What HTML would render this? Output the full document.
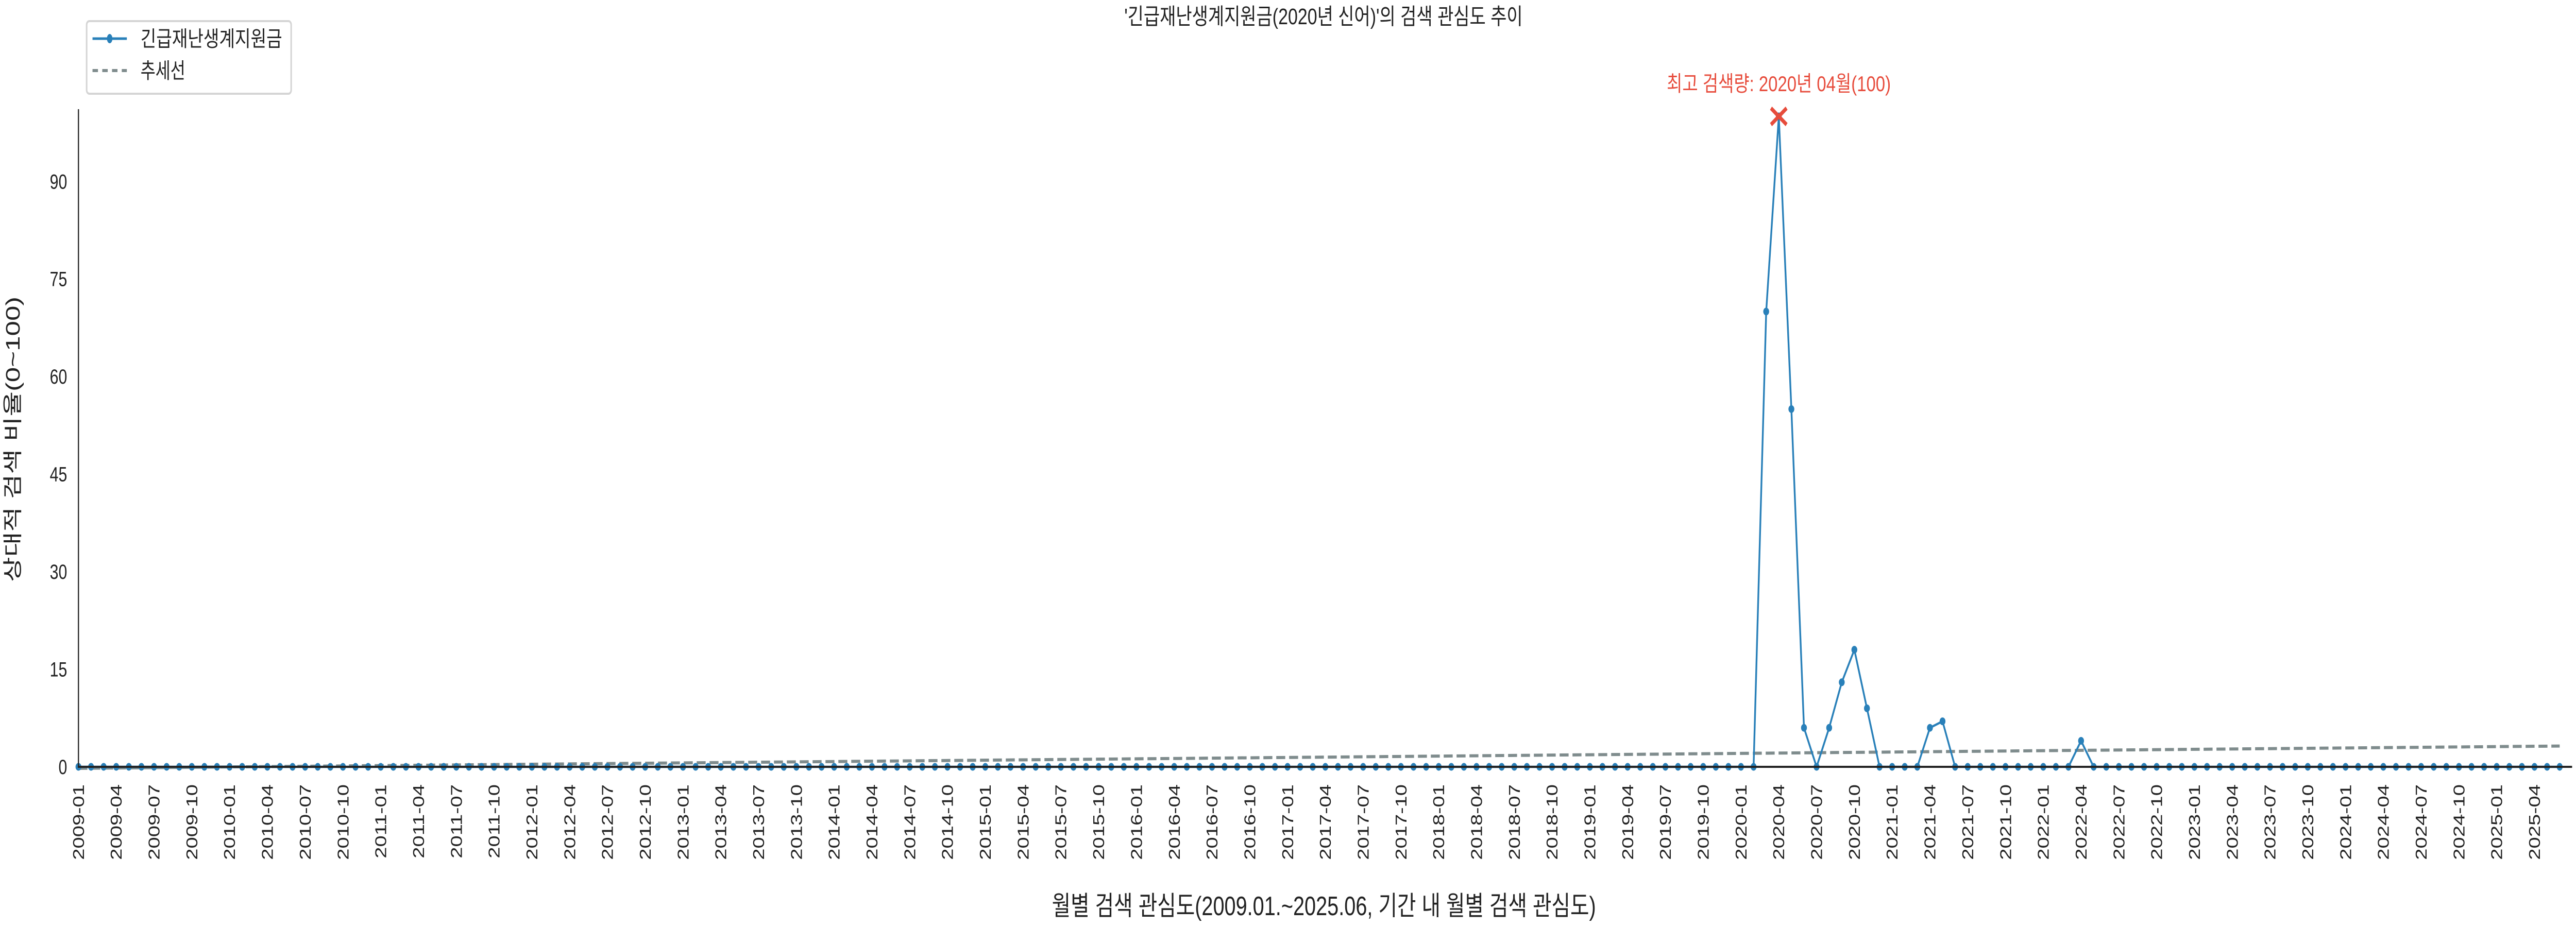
<!DOCTYPE html>
<html><head><meta charset="utf-8"><style>
html,body{margin:0;padding:0;background:#fff;width:100%;height:100%;overflow:hidden;}
svg{display:block;width:100vw;height:100vh;}
text{font-family:"Liberation Sans","Noto Sans CJK KR",sans-serif;fill:#222;}
</style></head><body>
<svg id="chart" viewBox="0 0 6600 1800" preserveAspectRatio="none" xmlns="http://www.w3.org/2000/svg">
<text x="3391" y="47" text-anchor="middle" font-size="44" textLength="1021" lengthAdjust="spacingAndGlyphs">'긴급재난생계지원금(2020년 신어)'의 검색 관심도 추이</text>
<g id="plot"></g>
<text transform="translate(50,853) rotate(-90)" text-anchor="middle" font-size="50" textLength="554" lengthAdjust="spacingAndGlyphs">상대적 검색 비율(0~100)</text>
<text x="3392" y="1777" text-anchor="middle" font-size="52" textLength="1394" lengthAdjust="spacingAndGlyphs">월별 검색 관심도(2009.01.~2025.06, 기간 내 월별 검색 관심도)</text>
<g>
<rect x="222" y="41" width="524" height="141" rx="7" fill="#fff" stroke="#d5d5d5" stroke-width="4"/>
<line x1="237" y1="75" x2="325" y2="75" stroke="#2980b9" stroke-width="5"/>
<ellipse cx="281" cy="75" rx="7" ry="9" fill="#2980b9"/>
<text x="360" y="90" font-size="42" textLength="363" lengthAdjust="spacingAndGlyphs">긴급재난생계지원금</text>
<line x1="237" y1="137" x2="325" y2="137" stroke="#7f8c8d" stroke-width="6" stroke-dasharray="14,11"/>
<text x="360" y="152" font-size="42" textLength="115" lengthAdjust="spacingAndGlyphs">추세선</text>
</g>
</svg>
<script>
const startYear = 2009;
const nMonths = 198;
// nonzero months (index from 2009-01) and their values; all other months are 0
const peakMonths = [134, 135, 136, 137, 139, 140, 141, 142, 147, 148, 159];
const peakValues = [70, 100, 55, 6, 6, 13, 18, 9, 6, 7, 4];
const yTicks = [0, 15, 30, 45, 60, 75, 90];

const values = [];
for (let i = 0; i < nMonths; i++) values.push(0);
peakMonths.forEach((m, k) => { values[m] = peakValues[k]; });
const labels = [];
for (let i = 0; i < nMonths; i++) {
  const y = startYear + Math.floor(i / 12), m = (i % 12) + 1;
  labels.push(y + '-' + (m < 10 ? '0' + m : m));
}

const X0 = 201, DX = 32.27, Y0 = 1489, DY = 12.63;
const xs = i => X0 + i * DX;
const ys = v => Y0 - v * DY;
const NS = 'http://www.w3.org/2000/svg';
const g = document.getElementById('plot');
function mk(tag, attrs, parent) {
  const e = document.createElementNS(NS, tag);
  for (const k in attrs) e.setAttribute(k, attrs[k]);
  (parent || g).appendChild(e);
  return e;
}

yTicks.forEach(t => {
  const tx = mk('text', { x: 172, y: ys(t) + 14, 'text-anchor': 'end', 'font-size': 40 });
  
  
  tx.textContent = t;
});
for (let i = 0; i < nMonths; i += 3) {
  const x = xs(i);
  const tx = mk('text', { transform: `translate(${x + 14},1523) rotate(-90)`, 'text-anchor': 'end', 'font-size': 40 });
  
  
  tx.textContent = labels[i];
}

let n = nMonths, sx = 0, sy = 0, sxy = 0, sxx = 0;
for (let i = 0; i < n; i++) { sx += i; sy += values[i]; sxy += i * values[i]; sxx += i * i; }
const slope = (n * sxy - sx * sy) / (n * sxx - sx * sx);
const icpt = (sy - slope * sx) / n;
const trend = mk('line', { x1: xs(0), y1: ys(icpt), x2: xs(n - 1), y2: ys(icpt + slope * (n - 1)), stroke: '#7f8c8d', 'stroke-width': 6, 'stroke-dasharray': '23,10' });



const pts = values.map((v, i) => xs(i).toFixed(1) + ',' + ys(v).toFixed(1)).join(' ');
const pl = mk('polyline', { points: pts, fill: 'none', stroke: '#2980b9', 'stroke-width': 4.5, 'stroke-linejoin': 'round' });


values.forEach((v, i) => {
  const c = mk('ellipse', { cx: xs(i), cy: ys(v), rx: 7.5, ry: 7.5, fill: '#2980b9' });
  
  
});

const ls = mk('line', { x1: X0, y1: 212, x2: X0, y2: Y0 + 2, stroke: '#222', 'stroke-width': 3 });


const bs = mk('line', { x1: X0 - 1.5, y1: Y0, x2: 6590, y2: Y0, stroke: '#222', 'stroke-width': 4 });



let mi = 0;
values.forEach((v, i) => { if (v > values[mi]) mi = i; });
const mx = xs(mi), my = ys(values[mi]);
const mkX = mk('path', { d: `M${mx - 20},${my - 16} L${mx + 20},${my + 16} M${mx - 20},${my + 16} L${mx + 20},${my - 16}`, stroke: '#e74c3c', 'stroke-width': 8, fill: 'none' });


const ann = mk('text', { x: mx, y: 177, 'text-anchor': 'middle', 'font-size': 42, textLength: 574, lengthAdjust: 'spacingAndGlyphs', style: 'fill:#e74c3c' });


ann.textContent = '최고 검색량: ' + labels[mi].replace('-', '년 ') + '월(' + values[mi] + ')';
</script>
</body></html>
